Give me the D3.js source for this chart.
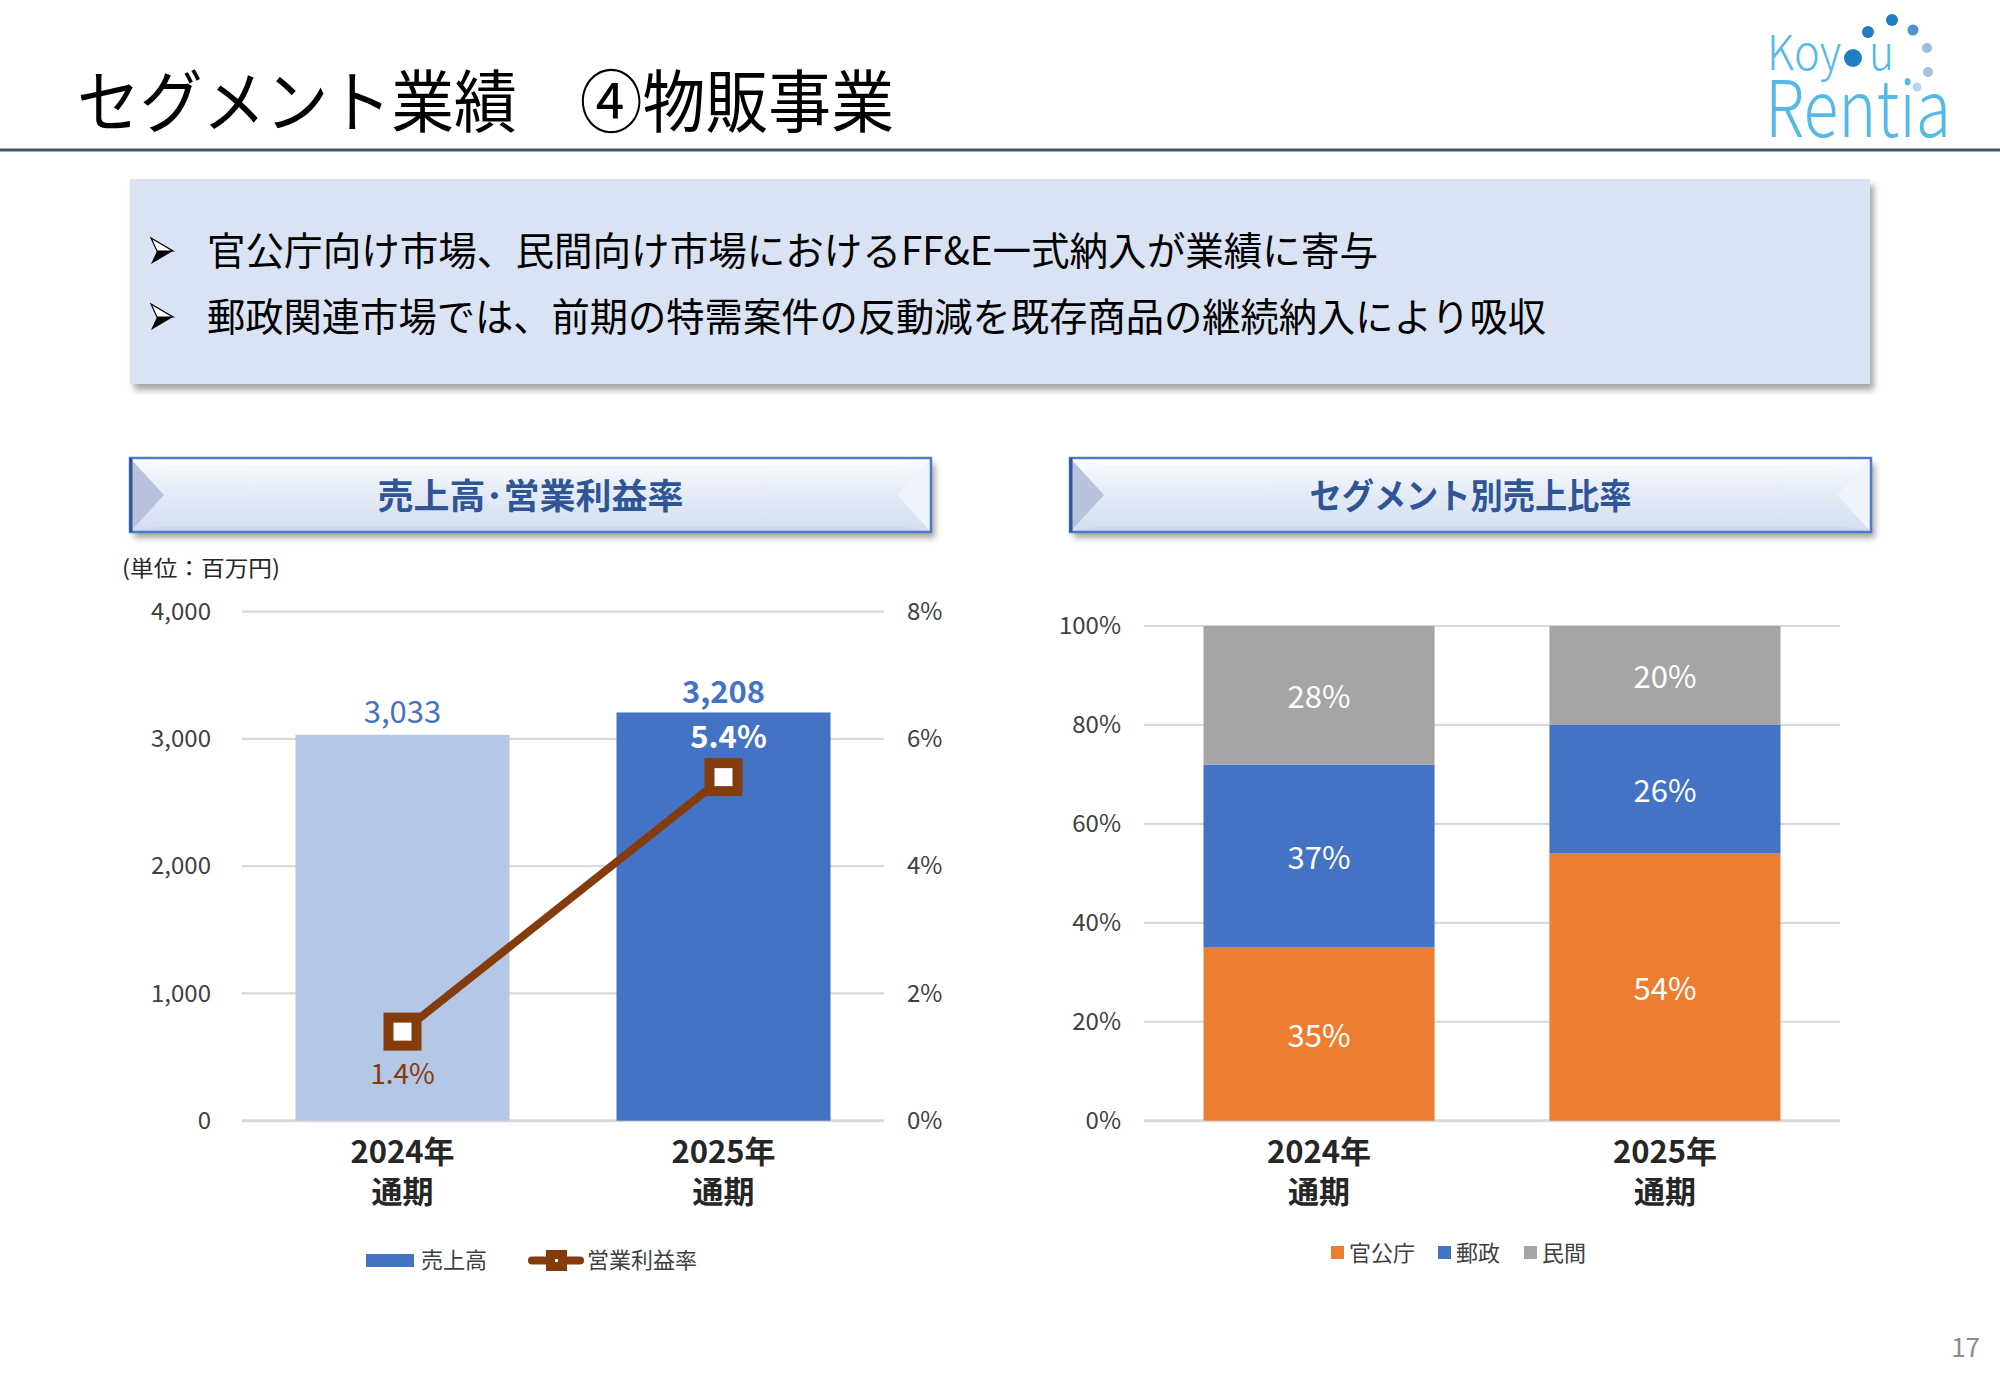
<!DOCTYPE html>
<html>
<head>
<meta charset="utf-8">
<script src="https://cdn.jsdelivr.net/npm/d3@7"></script>
<style>
  html, body { margin: 0; padding: 0; background: #ffffff; }
  svg { display: block; }
  text { font-family: "Noto Sans CJK JP", "Noto Sans", sans-serif; }
</style>
</head>
<body>
<script>
// ---------------- DATA ----------------
const pageTitle = "セグメント業績　④物販事業";
const bullets = [
  "官公庁向け市場、民間向け市場におけるFF&E一式納入が業績に寄与",
  "郵政関連市場では、前期の特需案件の反動減を既存商品の継続納入により吸収"
];
const leftHeader = "売上高･営業利益率";
const rightHeader = "セグメント別売上比率";
const unitLabel = "(単位：百万円)";

const categories = ["2024年", "2025年"];
const periodLabel = "通期";
const sales = [3033, 3208];            // 売上高 (百万円)
const marginRate = [1.4, 5.4];         // 営業利益率 (%)
const salesTicks = [0, 1000, 2000, 3000, 4000];
const rateTicks = [0, 2, 4, 6, 8];
const seriesNames = ["売上高", "営業利益率"];

const segments = ["官公庁", "郵政", "民間"];
const segGov = [35, 54];
const segPost = [37, 26];
const segPrivate = [28, 20];
const shareTicks = [0, 20, 40, 60, 80, 100];
const pageNumber = "17";

// ---------------- SETUP ----------------
const W = 2000, H = 1385;
const svg = d3.select("body").append("svg").attr("width", W).attr("height", H);
const defs = svg.append("defs");

const sh = defs.append("filter").attr("id", "shadow").attr("x", "-5%").attr("y", "-20%").attr("width", "115%").attr("height", "160%");
sh.append("feDropShadow").attr("dx", 4).attr("dy", 6).attr("stdDeviation", 3).attr("flood-color", "#000").attr("flood-opacity", 0.35);

const hg = defs.append("linearGradient").attr("id", "hdrGrad").attr("x1", 0).attr("y1", 0).attr("x2", 0).attr("y2", 1);
hg.append("stop").attr("offset", "0%").attr("stop-color", "#FAFBFE");
hg.append("stop").attr("offset", "45%").attr("stop-color", "#E6ECF7");
hg.append("stop").attr("offset", "100%").attr("stop-color", "#D3DDF0");

// ---------------- TITLE ----------------
svg.append("text").attr("x", 77).attr("y", 127).attr("font-size", 68)
  .attr("fill", "#000").attr("textLength", 817).attr("lengthAdjust", "spacingAndGlyphs")
  .text(pageTitle);
svg.append("rect").attr("x", 0).attr("y", 148.5).attr("width", W).attr("height", 3).attr("fill", "#44546A");

// Logo
const logo = svg.append("g");
const logoFont = "Lato, 'Open Sans', sans-serif";
logo.append("text").attr("x", 1767).attr("y", 70).attr("font-family", logoFont)
  .attr("font-size", 48).attr("font-weight", 300).attr("fill", "#55B9E8")
  .attr("textLength", 74).attr("lengthAdjust", "spacingAndGlyphs").text("Koy");
logo.append("circle").attr("cx", 1853).attr("cy", 58).attr("r", 9).attr("fill", "#1E7FC3");
logo.append("text").attr("x", 1869).attr("y", 70).attr("font-family", logoFont)
  .attr("font-size", 48).attr("font-weight", 300).attr("fill", "#55B9E8")
  .attr("textLength", 25).attr("lengthAdjust", "spacingAndGlyphs").text("u");
logo.append("text").attr("x", 1765).attr("y", 137).attr("font-family", logoFont)
  .attr("font-size", 78).attr("font-weight", 300).attr("fill", "#55B9E8")
  .attr("textLength", 186).attr("lengthAdjust", "spacingAndGlyphs").text("Rentia");
const dots = [[1868, 32, 6, "#1E7FC3"], [1892, 20, 6, "#1E7FC3"], [1913, 30, 5.5, "#4B92D2"],
              [1927, 48, 5, "#9DBAE2"], [1928, 72, 5, "#A5C0E4"], [1917, 87, 4.5, "#BDD2EC"]];
logo.selectAll("circle.dot").data(dots).join("circle").attr("class", "dot")
  .attr("cx", d => d[0]).attr("cy", d => d[1]).attr("r", d => d[2]).attr("fill", d => d[3]);

// ---------------- BULLET BOX ----------------
svg.append("rect").attr("x", 130).attr("y", 179).attr("width", 1740).attr("height", 205)
  .attr("fill", "#DAE3F3").attr("filter", "url(#shadow)");
const bulletY = [265, 331];
const bulletLen = [1171, 1339];
bullets.forEach((t, i) => {
  svg.append("path")
    .attr("d", `M151,${bulletY[i] - 27} L173,${bulletY[i] - 14} L151,${bulletY[i] - 1} L157,${bulletY[i] - 14} Z`)
    .attr("fill", "#000");
  svg.append("path")
    .attr("d", `M151,${bulletY[i] - 27} L173,${bulletY[i] - 14} L157,${bulletY[i] - 14} Z`)
    .attr("fill", "#fff").attr("stroke", "#000").attr("stroke-width", 1.2);
  svg.append("text").attr("x", 207).attr("y", bulletY[i]).attr("font-size", 39).attr("fill", "#000")
    .attr("textLength", bulletLen[i]).attr("lengthAdjust", "spacingAndGlyphs").text(t);
});

// ---------------- HEADERS ----------------
function header(x, y, w, h, label, len) {
  const g = svg.append("g");
  g.append("rect").attr("x", x).attr("y", y).attr("width", w).attr("height", h)
    .attr("fill", "url(#hdrGrad)").attr("filter", "url(#shadow)");
  g.append("path").attr("d", `M${x},${y} L${x + w},${y} L${x + w - 34},${y + 7} L${x + 34},${y + 7} Z`).attr("fill", "#FFFFFF").attr("opacity", 0.8);
  g.append("path").attr("d", `M${x},${y + h} L${x + w},${y + h} L${x + w - 34},${y + h - 6} L${x + 34},${y + h - 6} Z`).attr("fill", "#C9D6EE").attr("opacity", 0.9);
  g.append("path").attr("d", `M${x},${y} L${x + 34},${y + h / 2} L${x},${y + h} Z`).attr("fill", "#B7C3DC");
  g.append("path").attr("d", `M${x + w},${y} L${x + w - 34},${y + h / 2} L${x + w},${y + h} Z`).attr("fill", "#EEF2FA");
  g.append("rect").attr("x", x).attr("y", y).attr("width", w).attr("height", h)
    .attr("fill", "none").attr("stroke", "#4F7BCB").attr("stroke-width", 2.5);
  g.append("line").attr("x1", x + 1).attr("x2", x + 1).attr("y1", y).attr("y2", y + h).attr("stroke", "#2F5597").attr("stroke-width", 3);
  g.append("text").attr("x", x + w / 2).attr("y", y + 51).attr("text-anchor", "middle")
    .attr("font-size", 35).attr("font-weight", 700).attr("fill", "#2F5597")
    .attr("textLength", len).attr("lengthAdjust", "spacingAndGlyphs").text(label);
}
header(130, 458, 801, 74, leftHeader, 306);
header(1070, 458, 801, 74, rightHeader, 322);

svg.append("text").attr("x", 122).attr("y", 576).attr("font-size", 22).attr("fill", "#262626")
  .attr("textLength", 158).attr("lengthAdjust", "spacingAndGlyphs").text(unitLabel);

// ---------------- LEFT CHART ----------------
const L = svg.append("g");
const yL = d3.scaleLinear().domain([0, 4000]).range([1120.7, 611.7]);
const yR = d3.scaleLinear().domain([0, 8]).range([1120.7, 611.7]);
const xL = d3.scaleBand().domain(categories).range([242, 884]).paddingInner(1 / 3).paddingOuter(1 / 6);
const bwL = xL.bandwidth();

L.append("g").selectAll("line").data(salesTicks).join("line")
  .attr("x1", 242).attr("x2", 884).attr("y1", d => yL(d)).attr("y2", d => yL(d))
  .attr("stroke", "#D9D9D9").attr("stroke-width", d => d === 0 ? 3 : 2.2);

const axL = L.append("g").attr("transform", "translate(211,0)")
  .call(d3.axisLeft(yL).tickValues(salesTicks).tickFormat(d3.format(",")).tickSize(0).tickPadding(0));
axL.select(".domain").remove();
axL.selectAll("text").attr("font-size", 24).attr("fill", "#404040").attr("font-family", "'Noto Sans CJK JP'");

const axR = L.append("g").attr("transform", "translate(907,0)")
  .call(d3.axisRight(yR).tickValues(rateTicks).tickFormat(d => d + "%").tickSize(0).tickPadding(0));
axR.select(".domain").remove();
axR.selectAll("text").attr("font-size", 24).attr("fill", "#404040").attr("font-family", "'Noto Sans CJK JP'");

const barColors = ["#B4C7E7", "#4472C4"];
L.append("g").selectAll("rect").data(sales).join("rect")
  .attr("x", (d, i) => xL(categories[i])).attr("width", bwL)
  .attr("y", d => yL(d)).attr("height", d => yL(0) - yL(d))
  .attr("fill", (d, i) => barColors[i]);

// sales labels
L.append("text").attr("x", xL(categories[0]) + bwL / 2).attr("y", yL(sales[0]) - 12)
  .attr("text-anchor", "middle").attr("font-size", 31).attr("fill", "#4472C4").text(d3.format(",")(sales[0]));
L.append("text").attr("x", xL(categories[1]) + bwL / 2).attr("y", yL(sales[1]) - 9)
  .attr("text-anchor", "middle").attr("font-size", 31).attr("font-weight", 700).attr("fill", "#4472C4").text(d3.format(",")(sales[1]));

// margin line
const cx = c => xL(c) + bwL / 2;
L.append("path").datum(categories)
  .attr("d", d3.line().x(c => cx(c)).y((c, i) => yR(marginRate[i])))
  .attr("fill", "none").attr("stroke", "#843C0C").attr("stroke-width", 8);
L.append("g").selectAll("rect").data(categories).join("rect")
  .attr("x", c => cx(c) - 14).attr("y", (c, i) => yR(marginRate[i]) - 14)
  .attr("width", 28).attr("height", 28).attr("fill", "#fff")
  .attr("stroke", "#843C0C").attr("stroke-width", 10);
L.append("text").attr("x", cx(categories[0])).attr("y", yR(marginRate[0]) + 52)
  .attr("text-anchor", "middle").attr("font-size", 28).attr("fill", "#843C0C").text(marginRate[0].toFixed(1) + "%");
L.append("text").attr("x", cx(categories[1]) + 5).attr("y", yR(marginRate[1]) - 29)
  .attr("text-anchor", "middle").attr("font-size", 31).attr("font-weight", 700).attr("fill", "#fff").text(marginRate[1].toFixed(1) + "%");

// x labels
function catLabels(g, xs, bw) {
  categories.forEach(c => {
    const t = g.append("text").attr("text-anchor", "middle").attr("font-size", 31).attr("font-weight", 700).attr("fill", "#262626");
    t.append("tspan").attr("x", xs(c) + bw / 2).attr("y", 1163).text(c);
    t.append("tspan").attr("x", xs(c) + bw / 2).attr("y", 1203).text(periodLabel);
  });
}
catLabels(L, xL, bwL);

// legend left
L.append("rect").attr("x", 366).attr("y", 1254).attr("width", 48).attr("height", 13).attr("fill", "#4472C4");
L.append("text").attr("x", 421).attr("y", 1268).attr("font-size", 22).attr("fill", "#404040").text(seriesNames[0]);
L.append("line").attr("x1", 532).attr("x2", 580).attr("y1", 1260.5).attr("y2", 1260.5)
  .attr("stroke", "#843C0C").attr("stroke-width", 8).attr("stroke-linecap", "round");
L.append("rect").attr("x", 546).attr("y", 1250).attr("width", 21).attr("height", 21).attr("fill", "#843C0C");
L.append("rect").attr("x", 555).attr("y", 1259).attr("width", 3).attr("height", 3).attr("fill", "#fff");
L.append("text").attr("x", 587).attr("y", 1268).attr("font-size", 22).attr("fill", "#404040").text(seriesNames[1]);

// ---------------- RIGHT CHART ----------------
const R = svg.append("g");
const yS = d3.scaleLinear().domain([0, 100]).range([1120.7, 626]);
const xS = d3.scaleBand().domain(categories).range([1144, 1840]).paddingInner(0.332).paddingOuter(0.172);
const bwS = xS.bandwidth();

R.append("g").selectAll("line").data(shareTicks).join("line")
  .attr("x1", 1144).attr("x2", 1840).attr("y1", d => yS(d)).attr("y2", d => yS(d))
  .attr("stroke", "#D9D9D9").attr("stroke-width", d => d === 0 ? 3 : 2.2);

const axS = R.append("g").attr("transform", "translate(1121,0)")
  .call(d3.axisLeft(yS).tickValues(shareTicks).tickFormat(d => d + "%").tickSize(0).tickPadding(0));
axS.select(".domain").remove();
axS.selectAll("text").attr("font-size", 24).attr("fill", "#404040").attr("font-family", "'Noto Sans CJK JP'");

const rows = categories.map((c, i) => ({ cat: c, "官公庁": segGov[i], "郵政": segPost[i], "民間": segPrivate[i] }));
const stacked = d3.stack().keys(segments)(rows);
const segColors = d3.scaleOrdinal().domain(segments).range(["#ED7D31", "#4472C4", "#A5A5A5"]);

const layer = R.append("g").selectAll("g").data(stacked).join("g").attr("fill", s => segColors(s.key));
layer.selectAll("rect").data(s => s).join("rect")
  .attr("x", d => xS(d.data.cat)).attr("width", bwS)
  .attr("y", d => yS(d[1])).attr("height", d => yS(d[0]) - yS(d[1]));
const lab = R.append("g").selectAll("g").data(stacked).join("g");
lab.selectAll("text").data(s => s.map(d => ({ d, key: s.key }))).join("text")
  .attr("x", o => xS(o.d.data.cat) + bwS / 2)
  .attr("y", o => (yS(o.d[0]) + yS(o.d[1])) / 2 + 13)
  .attr("text-anchor", "middle").attr("font-size", 31).attr("fill", "#fff")
  .text(o => o.d.data[o.key] + "%");

catLabels(R, xS, bwS);

// legend right
const legX = [1331, 1438, 1524];
segments.forEach((s, i) => {
  R.append("rect").attr("x", legX[i]).attr("y", 1246).attr("width", 13).attr("height", 13).attr("fill", segColors(s));
  R.append("text").attr("x", legX[i] + 18).attr("y", 1261).attr("font-size", 22).attr("fill", "#404040").text(s);
});

svg.append("text").attr("x", 1980).attr("y", 1357).attr("text-anchor", "end")
  .attr("font-size", 26).attr("fill", "#8C8C8C").text(pageNumber);
</script>
</body>
</html>
